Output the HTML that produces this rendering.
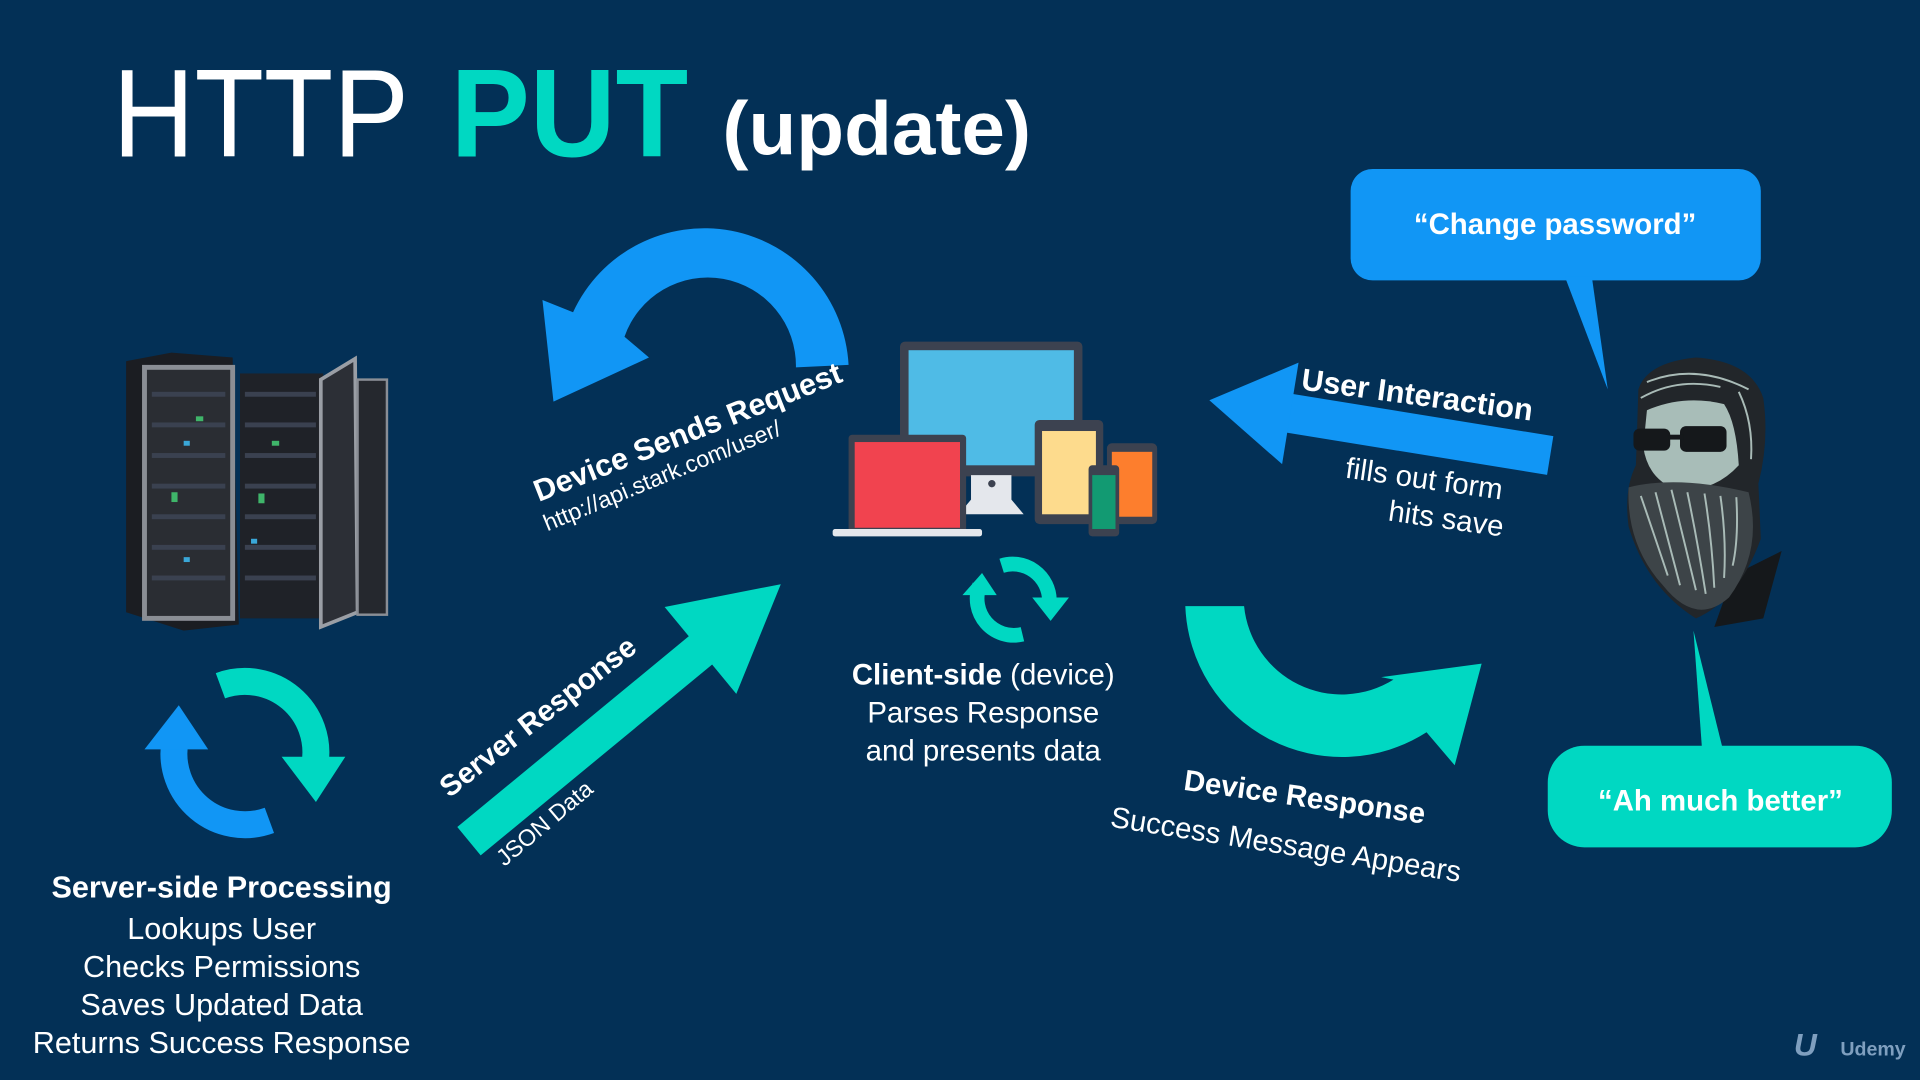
<!DOCTYPE html>
<html><head><meta charset="utf-8"><style>
html,body{margin:0;padding:0;background:#032f55;}
svg{display:block}
text{font-family:"Liberation Sans",Arial,sans-serif;fill:#fff}
</style></head><body>
<svg width="1920" height="1080" viewBox="0 0 1568 882" xmlns="http://www.w3.org/2000/svg">
<rect width="1568" height="882" fill="#033056"/>
<text x="92" y="128" font-size="102" textLength="242" lengthAdjust="spacingAndGlyphs">HTTP</text>
<text x="368" y="128" font-size="102" font-weight="bold" style="fill:#00d8c2" textLength="194" lengthAdjust="spacingAndGlyphs">PUT</text>
<text x="590" y="126" font-size="62" font-weight="bold" textLength="252" lengthAdjust="spacingAndGlyphs">(update)</text>

<g>
<polygon points="103,295 140,288 190,292 195,510 150,515 103,500" fill="#1b1d22"/>
<rect x="118" y="300" width="72" height="205" fill="#2a2d33" stroke="#8a8e95" stroke-width="4"/>
<rect x="196" y="305" width="68" height="200" fill="#1f2228"/>
<polygon points="262,310 290,293 292,500 262,512" fill="#2c2f36" stroke="#9a9ea5" stroke-width="3"/>
<rect x="292" y="310" width="24" height="192" fill="#25282e" stroke="#8a8e95" stroke-width="2"/>
<g fill="#3a4150">
<rect x="124" y="320" width="60" height="4"/><rect x="124" y="345" width="60" height="4"/><rect x="124" y="370" width="60" height="4"/><rect x="124" y="395" width="60" height="4"/><rect x="124" y="420" width="60" height="4"/><rect x="124" y="445" width="60" height="4"/><rect x="124" y="470" width="60" height="4"/>
<rect x="200" y="320" width="58" height="4"/><rect x="200" y="345" width="58" height="4"/><rect x="200" y="370" width="58" height="4"/><rect x="200" y="395" width="58" height="4"/><rect x="200" y="420" width="58" height="4"/><rect x="200" y="445" width="58" height="4"/><rect x="200" y="470" width="58" height="4"/>
</g>
<g fill="#3fb56a"><rect x="140" y="402" width="5" height="8"/><rect x="211" y="403" width="5" height="8"/><rect x="160" y="340" width="6" height="4"/><rect x="222" y="360" width="6" height="4"/></g>
<g fill="#3aa7d8"><rect x="150" y="360" width="5" height="4"/><rect x="205" y="440" width="5" height="4"/><rect x="150" y="455" width="5" height="4"/></g>
</g>

<path d="M220 670 A58 58 0 0 1 143 605" fill="none" stroke="#1196f5" stroke-width="22"/>
<polygon points="118,612 170,612 146,576" fill="#1196f5"/>
<path d="M180 560 A58 58 0 0 1 257 625" fill="none" stroke="#00d8c2" stroke-width="22"/>
<polygon points="230,618 282,618 258,655" fill="#00d8c2"/>

<g text-anchor="middle" font-size="25">
<text x="181" y="733" font-weight="bold">Server-side Processing</text>
<text x="181" y="767">Lookups User</text>
<text x="181" y="798">Checks Permissions</text>
<text x="181" y="829">Saves Updated Data</text>
<text x="181" y="860">Returns Success Response</text>
</g>

<path d="M693 298 A118 118 0 0 0 468 255 L443 245 L452 328 L530 292 L510 275 A72 72 0 0 1 650 300 Z" fill="#1196f5"/>
<text transform="translate(440,410) rotate(-21.6)" font-size="25" font-weight="bold">Device Sends Request</text>
<text transform="translate(447,434) rotate(-22.4)" font-size="19">http://api.stark.com/user/</text>

<g transform="translate(383,687) rotate(-39.5)" fill="#00d8c2">
<rect x="0" y="-15" width="255" height="30"/>
<polygon points="245,-46 330,0 245,46"/>
</g>
<text transform="translate(367,652) rotate(-38)" font-size="24" font-weight="bold">Server Response</text>
<text transform="translate(412,708) rotate(-40)" font-size="19">JSON Data</text>

<rect x="735" y="279" width="149" height="110" rx="4" fill="#3c4250"/>
<rect x="742" y="286" width="135" height="95" fill="#4fbbe6"/>
<rect x="735" y="380" width="149" height="8" fill="#3c4250"/>
<polygon points="793,388 826,388 826,408 836,420 783,420 793,408" fill="#e4e7ec"/>
<circle cx="810" cy="395" r="3" fill="#3c4250"/>
<rect x="693" y="355" width="96" height="80" rx="3" fill="#3c4250"/>
<rect x="698" y="361" width="86" height="70" fill="#f1434f"/>
<rect x="680" y="432" width="122" height="6" rx="2" fill="#e4e7ec"/>
<rect x="845" y="343" width="56" height="85" rx="4" fill="#3c4250"/>
<rect x="851" y="352" width="44" height="68" fill="#fddb8d"/>
<rect x="904" y="362" width="41" height="66" rx="4" fill="#3c4250"/>
<rect x="908" y="369" width="33" height="53" fill="#fd7e2d"/>
<rect x="889" y="380" width="25" height="58" rx="3" fill="#3c4250"/>
<rect x="892" y="388" width="19" height="44" fill="#129a72"/>

<path d="M835 518 A30 30 0 0 1 800 478" fill="none" stroke="#00d8c2" stroke-width="12"/>
<polygon points="786,486 814,486 802,468" fill="#00d8c2"/>
<path d="M818 462 A30 30 0 0 1 857 490" fill="none" stroke="#00d8c2" stroke-width="12"/>
<polygon points="843,488 873,488 858,507" fill="#00d8c2"/>

<g text-anchor="middle" font-size="24">
<text x="803" y="559"><tspan font-weight="bold">Client-side</tspan> (device)</text>
<text x="803" y="590">Parses Response</text>
<text x="803" y="621">and presents data</text>
</g>

<g transform="translate(1266,372) rotate(189.2)" fill="#1196f5">
<rect x="0" y="-16" width="225" height="32"/>
<polygon points="215,-42 282,0 215,42"/>
</g>
<text transform="translate(1062,318) rotate(7.7)" font-size="25" font-weight="bold">User Interaction</text>
<text transform="translate(1098,390) rotate(8)" font-size="24">fills out form</text>
<text transform="translate(1133,425) rotate(8)" font-size="24">hits save</text>

<path d="M968 495 A128 128 0 0 0 1165 598 L1188 625 L1210 542 L1128 553 L1138 555 A80 80 0 0 1 1016 495 Z" fill="#00d8c2"/>
<text transform="translate(966,645) rotate(8)" font-size="24" font-weight="bold">Device Response</text>
<text transform="translate(906,675) rotate(9)" font-size="24">Success Message Appears</text>

<rect x="1103" y="138" width="335" height="91" rx="18" fill="#1196f5"/>
<polygon points="1278,226 1300,226 1313,318" fill="#1196f5"/>
<text x="1270" y="191" text-anchor="middle" font-size="24" font-weight="bold">“Change password”</text>
<rect x="1264" y="609" width="281" height="83" rx="30" fill="#00d8c2"/>
<polygon points="1383,515 1390,612 1407,612" fill="#00d8c2"/>
<text x="1405" y="662" text-anchor="middle" font-size="24" font-weight="bold">“Ah much better”</text>

<!-- Man -->
<g>
<path d="M1415 470 L1455 450 L1440 505 L1400 512 Z" fill="#15181b"/>
<path d="M1338 318 Q1345 296 1385 292 Q1430 295 1440 325 Q1445 360 1436 395 L1438 440 Q1420 490 1385 505 Q1345 480 1330 430 Q1326 400 1336 380 Z" fill="#22262a"/>
<path d="M1345 335 Q1375 322 1408 330 Q1418 345 1420 380 Q1400 402 1370 400 Q1346 392 1342 365 Z" fill="#a8bdb8"/>
<rect x="1334" y="350" width="30" height="18" rx="5" fill="#15181b"/>
<rect x="1372" y="348" width="38" height="21" rx="5" fill="#15181b"/>
<rect x="1363" y="355" width="12" height="4" fill="#15181b"/>
<path d="M1330 398 Q1370 388 1428 402 Q1440 450 1412 488 Q1385 512 1358 478 Q1328 445 1330 398 Z" fill="#3d4448"/>
<g stroke="#a9bbb7" stroke-width="1.6" fill="none">
<path d="M1340 405 Q1352 440 1362 470"/><path d="M1352 402 Q1362 440 1372 478"/><path d="M1365 400 Q1375 440 1385 482"/><path d="M1378 402 Q1386 440 1393 485"/><path d="M1392 403 Q1398 440 1400 480"/><path d="M1405 405 Q1410 440 1408 472"/><path d="M1418 406 Q1420 440 1415 462"/>
<path d="M1345 312 Q1385 296 1428 318"/><path d="M1340 325 Q1370 308 1405 316"/><path d="M1420 320 Q1432 345 1430 375"/>
</g>
</g>

<text x="1465" y="862" font-size="26" font-weight="bold" style="fill:#7f9fbf;font-style:italic">U</text>
<text x="1503" y="862" font-size="16" font-weight="bold" style="fill:#7f9fbf">Udemy</text>
</svg>
</body></html>
